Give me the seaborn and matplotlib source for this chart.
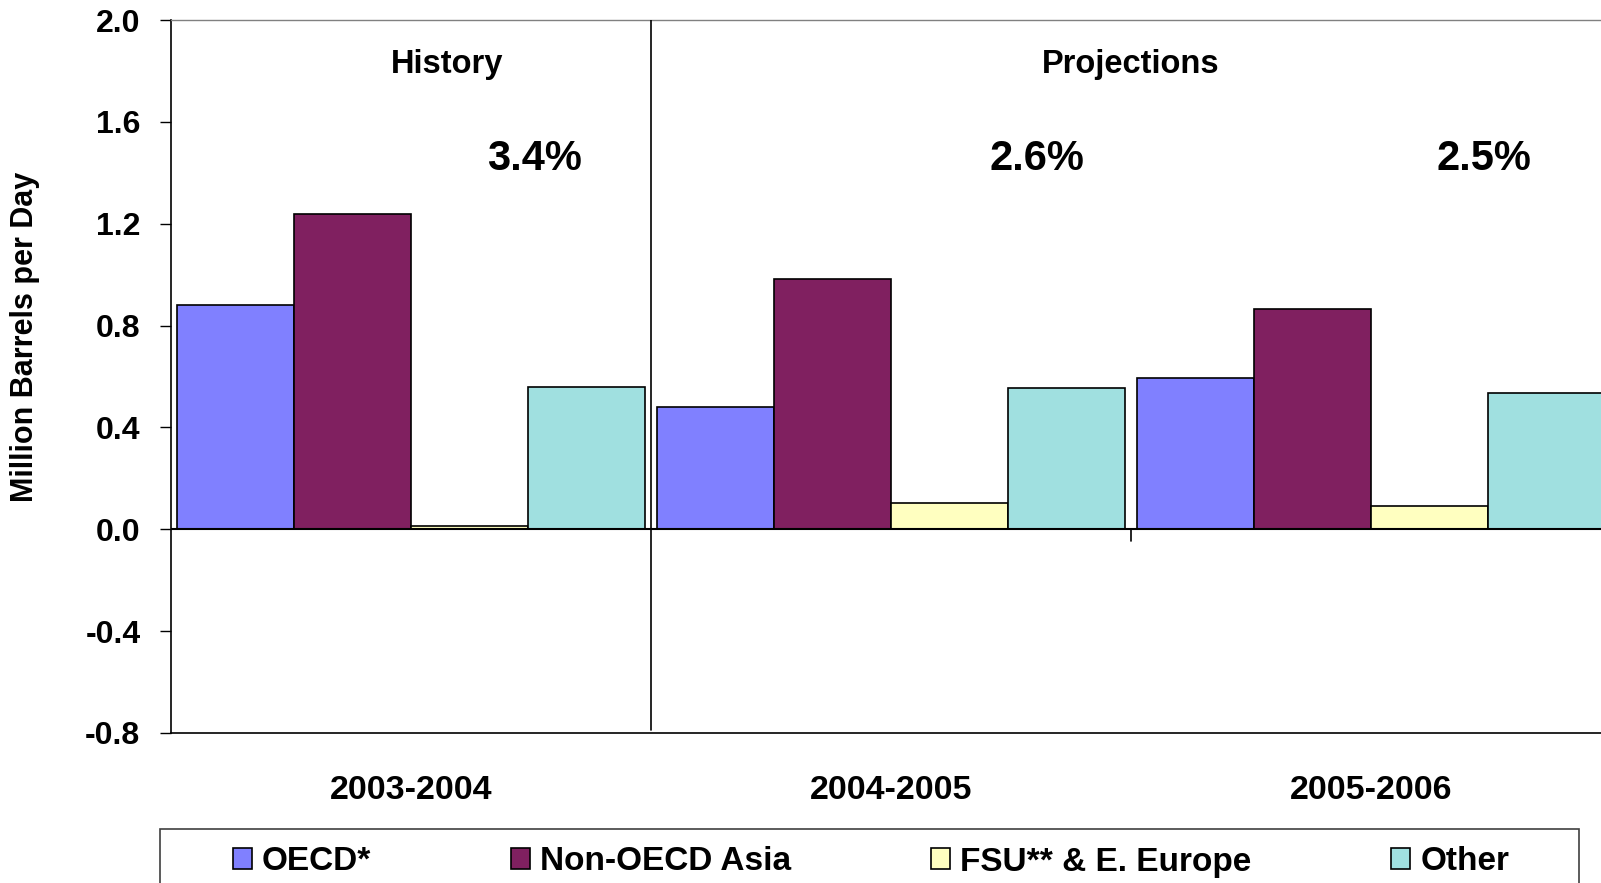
import pandas as pd
import matplotlib.pyplot as plt
import seaborn as sns
from matplotlib.patches import Rectangle

# ---------------------- Data ---------------------- #

periods = ['2003-2004', '2004-2005', '2005-2006']
regions = ['OECD*', 'Non-OECD Asia', 'FSU** & E. Europe', 'Other']
oecd = [0.881, 0.479, 0.593]
non_oecd_asia = [1.237, 0.982, 0.867]
fsu_europe = [0.013, 0.104, 0.090]
other = [0.560, 0.555, 0.534]
growth_labels = ['3.4%', '2.6%', '2.5%']
colors = ['#8080FF', '#802060', '#FFFFC0', '#A0E0E0']

df = pd.DataFrame({
    'period': periods * 4,
    'region': [r for r in regions for _ in periods],
    'value': oecd + non_oecd_asia + fsu_europe + other,
})

# ---------------------- Plot ---------------------- #

sns.set_style('white')
plt.rcParams['font.family'] = ['Liberation Sans', 'DejaVu Sans']
plt.rcParams['font.weight'] = 'bold'
plt.rcParams['axes.unicode_minus'] = False
for key in ['text.color', 'axes.labelcolor', 'xtick.color', 'ytick.color']:
    plt.rcParams[key] = 'black'

W, H = 1601, 883
fig = plt.figure(figsize=(W / 100, H / 100), dpi=100)
ax = fig.add_axes([171 / W, 150 / H, 1440 / W, 713 / H])

sns.barplot(data=df, x='period', y='value', hue='region', order=periods,
            hue_order=regions, palette=colors, width=0.975, saturation=1,
            edgecolor='black', linewidth=1.2, ax=ax)

handles, labels = ax.get_legend_handles_labels()
ax.get_legend().remove()

ax.set_xlim(-0.5, 2.5)
ax.set_ylim(-0.8, 2.0)
ax.set_yticks([-0.8, -0.4, 0.0, 0.4, 0.8, 1.2, 1.6, 2.0])
ax.set_yticklabels([f'{v:.1f}' for v in ax.get_yticks()])
ax.tick_params(axis='y', direction='out', length=8, width=1, pad=14,
               labelsize=23, left=True, color='black', labelcolor='black')
ax.tick_params(axis='x', length=0, pad=30, labelsize=24.5, labelcolor='black')
for t in ax.get_xticklabels() + ax.get_yticklabels():
    t.set_fontweight('bold')

ax.set_xlabel('')
ax.set_ylabel('Million Barrels per Day', fontsize=22, fontweight='bold',
              color='black')
ax.yaxis.set_label_coords(-0.091, 0.555)

for side in ['left', 'bottom']:
    ax.spines[side].set_color('black')
    ax.spines[side].set_linewidth(1.2)
ax.spines['top'].set_color('#808080')
ax.spines['top'].set_linewidth(1)
ax.spines['right'].set_visible(False)

# zero line, divider between history and projections, category tick
ax.axhline(0, color='black', lw=1.5, zorder=3)
ax.plot([0.5, 0.5], [-0.79, 2.0], color='black', lw=1.2, zorder=3)
ax.plot([1.5, 1.5], [0, -0.045], color='black', lw=1.2, zorder=3)

ax.text(0.076, 1.826, 'History', ha='center', va='center',
        fontsize=23.5, fontweight='bold', color='black')
ax.text(1.5, 1.826, 'Projections', ha='center', va='center',
        fontsize=23.5, fontweight='bold', color='black')
for x, lab in zip([0.257, 1.305, 2.236], growth_labels):
    ax.text(x, 1.453, lab, ha='center', va='center', fontsize=30,
            fontweight='bold', color='black')

# legend box at the bottom (runs off the figure edge like the original)
fig.patches.append(Rectangle((160 / W, -0.05), (1579 - 160) / W,
                             0.05 + (1 - 829 / H), transform=fig.transFigure,
                             fill=False, edgecolor='#404040', lw=1.2))
leg = fig.legend(handles, labels, loc='center left',
                 bbox_to_anchor=(216 / W, 1 - 862 / H), ncol=4, frameon=False,
                 borderpad=0, handlelength=0.57, handleheight=0.6,
                 handletextpad=0.3, columnspacing=4.2,
                 prop={'weight': 'bold', 'size': 24})
for t in leg.get_texts():
    t.set_color('black')

fig.savefig('out.png', dpi=100)
